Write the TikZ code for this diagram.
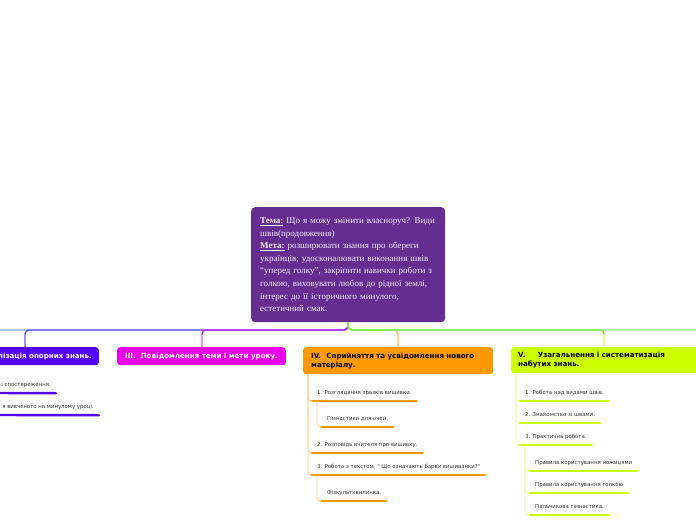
\documentclass[tikz,border=0pt]{standalone}
\usepackage{fontspec}
\setmainfont{Liberation Serif}
\newfontfamily\vfont{DejaVu Sans}
\definecolor{cpurple}{HTML}{662D91}
\definecolor{ctext}{HTML}{F2ECF7}
\definecolor{cII}{HTML}{5500FF}
\definecolor{cIII}{HTML}{EE00EE}
\definecolor{cIV}{HTML}{FF9900}
\definecolor{cV}{HTML}{CCFF00}
\definecolor{lI}{HTML}{88AAFF}
\definecolor{lII}{HTML}{6655FF}
\definecolor{lIIv}{HTML}{A088FF}
\definecolor{lIII}{HTML}{CC22FF}
\definecolor{lIIIv}{HTML}{FF88FF}
\definecolor{lIVv}{HTML}{FFBB55}
\definecolor{lV}{HTML}{77EE33}
\definecolor{lVv}{HTML}{EEFF88}
\definecolor{lVI}{HTML}{99FF88}
\definecolor{cnIV}{HTML}{FFCC77}
\definecolor{cnV}{HTML}{E5FF99}
\definecolor{itemtext}{HTML}{333333}
\tikzset{
  cbox/.style={rectangle, rounded corners=4pt, fill=cpurple, text=ctext, align=left,
    text width=176pt, inner xsep=9pt, inner ysep=4pt,
    font=\fontsize{9}{12.6}\selectfont},
  box/.style={rectangle, rounded corners=3pt, inner ysep=2pt,
    font=\vfont\bfseries\fontsize{7.1}{9}\selectfont},
  branch/.style={line width=1.4pt, rounded corners=4pt},
  item/.style={inner xsep=5pt, inner ysep=0pt, text height=4pt, text depth=7pt,
    text=itemtext, font=\vfont\fontsize{5.4}{6}\selectfont},
  ul/.style={line width=2.4pt, line cap=round},
  conn/.style={line width=0.8pt, rounded corners=4pt}
}
\begin{document}
\begin{tikzpicture}[x=1pt,y=-1pt]
\useasboundingbox (0,0) rectangle (696,520);
\clip (0,0) rectangle (696,520);

% central node
\node[cbox, anchor=north west, minimum width=194pt, minimum height=115pt] (c) at (251,207)
{\underline{\textbf{Тема:}} Що я можу змінити власноруч? Види\\
швів(продовження)\\
\underline{\textbf{Мета:}} розширювати знання про обереги\\
українців; удосконалювати виконання швів\\
“уперед голку”, закріпити навички роботи з\\
голкою, виховувати любов до рідної землі,\\
інтерес до її історичного минулого,\\
естетичний смак.};

% branch boxes
\node[box, fill=cII, text=white, anchor=north east, minimum height=18pt, inner xsep=7pt] (II) at (99,347)
  {II.\ \ Актуалізація опорних знань.};
\node[box, fill=cIII, text=white, anchor=north west, minimum height=18pt, inner xsep=8pt] (III) at (117,347)
  {III.\ \ Повідомлення теми і мети уроку.};
\node[box, fill=cIV, text=black, anchor=north west, minimum height=27pt, text width=174pt, inner xsep=8pt, align=left] (IV) at (303,347)
  {IV.\hspace{3pt} Сприйняття та усвідомлення нового\\ матеріалу.};
\node[box, fill=cV, text=black, anchor=north west, minimum height=26pt, text width=200pt, inner xsep=7pt, align=left] (V) at (511,347)
  {V.\hspace{10pt} Узагальнення і систематизація\\ набутих знань.};

% branch connectors
\coordinate (hub) at (348,330);
\coordinate (Iend) at (-10,330);
\coordinate (VIend) at (710,330);
\coordinate (IIt) at (25,347);
\coordinate (IIIt) at (202,347);
\coordinate (IVt) at (398,347);
\coordinate (Vt) at (604,347);
\draw[branch, lI] (c.south) -- (hub) -- (Iend);
\draw[branch, lII] (c.south) -- (hub) -| (IIt);
\draw[line width=1.4pt, lIIv] (25,335) -- (IIt);
\draw[branch, lIII] (c.south) -- (hub) -| (IIIt);
\draw[line width=1.4pt, lIIIv] (202,335) -- (IIIt);
\draw[branch, lIVv] (c.south) -- (hub) -| (IVt);
\draw[branch, lVI] (c.south) -- (hub) -- (VIend);
\draw[branch, lV] (c.south) -- (hub) -| (Vt);
\draw[line width=1.4pt, lVv] (604,335) -- (Vt);

% II items
\node[item, anchor=base east] (ii1) at (56,386) {і спостереження.};
\node[item, anchor=base east] (ii2) at (99,408) {я вивченого на минулому уроці.};
\draw[ul, cII] (-5,393) -- (ii1.south east);
\draw[ul, cII] (-5,415) -- (ii2.south east);

% IV items
\coordinate (ivr) at (308,374);
\node[item, anchor=base west] (iv1) at (312,394) {1. Розглядання зразків вишивки.};
\coordinate (iv1s) at (317,401);
\node[item, anchor=base west] (iv1a) at (322,420) {Гімнастика для очей.};
\node[item, anchor=base west] (iv2) at (312,446) {2. Розповідь вчителя про вишивку.};
\node[item, anchor=base west] (iv3) at (312,468) {3. Робота з текстом\ \ " Що означають барви вишиванки?"};
\coordinate (iv3s) at (317,475);
\node[item, anchor=base west] (iv3a) at (322,494) {Фізкультхвилинка.};
\foreach \n in {iv1,iv2,iv3} \draw[conn, cnIV] (ivr) |- (\n.south west);
\draw[conn, cnIV] (iv1s) |- (iv1a.south west);
\draw[conn, cnIV] (iv3s) |- (iv3a.south west);
\foreach \n in {iv1,iv1a,iv2,iv3,iv3a} \draw[ul, cIV] (\n.south west) -- (\n.south east);

% V items
\coordinate (vr) at (516,373);
\node[item, anchor=base west] (v1) at (520,394) {1. Робота над видами швів.};
\node[item, anchor=base west] (v2) at (520,416) {2. Знайомство зі швами.};
\node[item, anchor=base west] (v3) at (520,438) {3. Практична робота.};
\coordinate (v3s) at (525,445);
\node[item, anchor=base west] (v3a) at (530,464) {Правила користування ножицями};
\node[item, anchor=base west] (v3b) at (530,486) {Правила користування голкою};
\node[item, anchor=base west] (v3c) at (530,508) {Пальчикова гімнастика.};
\foreach \n in {v1,v2,v3} \draw[conn, cnV] (vr) |- (\n.south west);
\foreach \n in {v3a,v3b,v3c} \draw[conn, cnV] (v3s) |- (\n.south west);
\foreach \n in {v1,v2,v3,v3a,v3b,v3c} \draw[ul, cV] (\n.south west) -- (\n.south east);
\end{tikzpicture}
\end{document}
